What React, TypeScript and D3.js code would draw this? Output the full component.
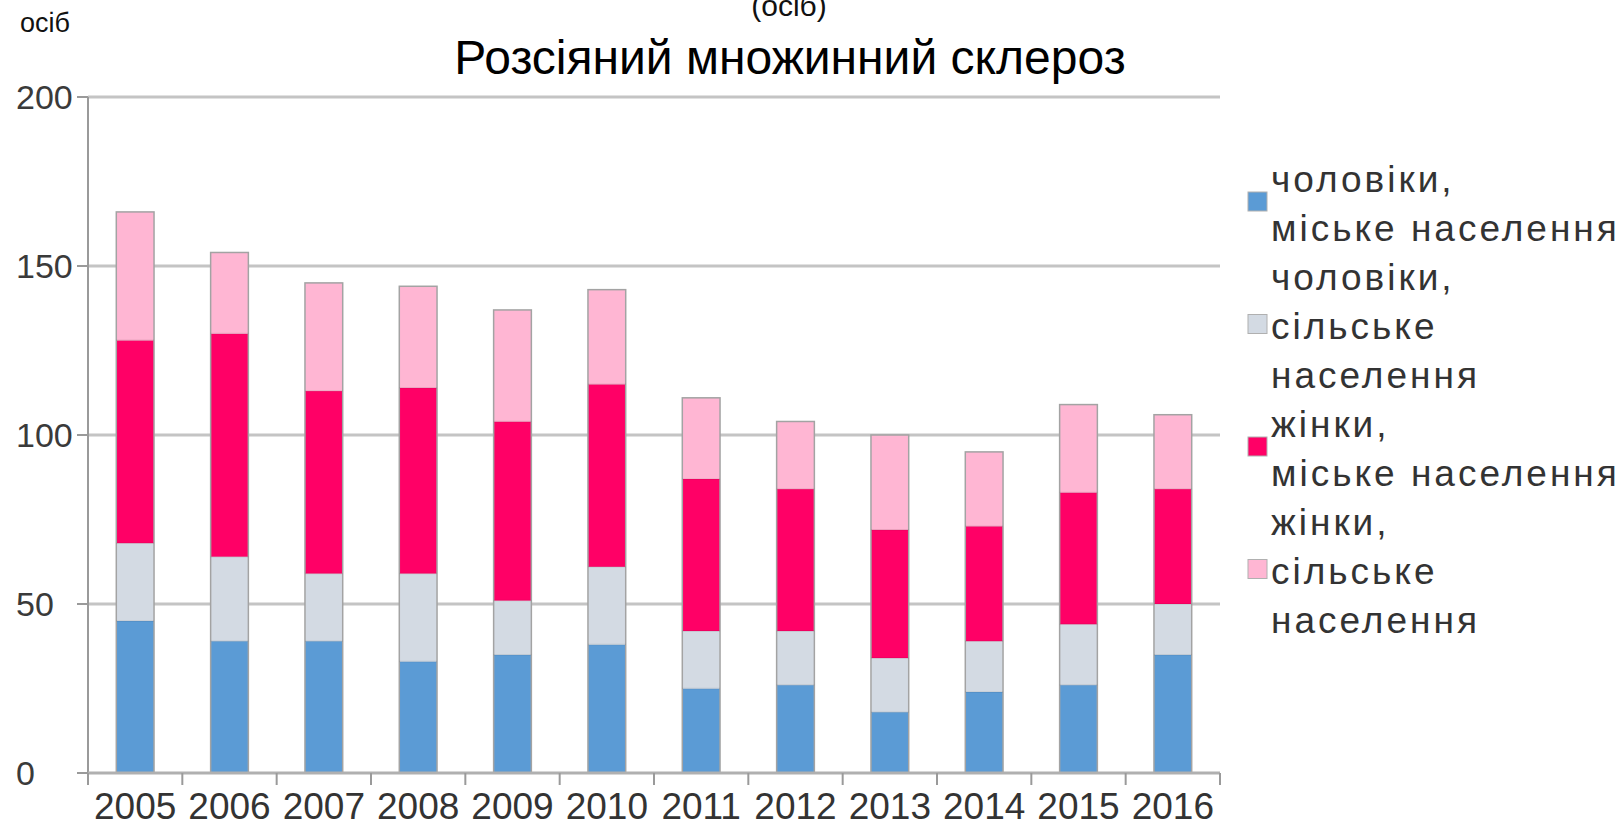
import React from "react";
import * as d3 from "d3";

const years = ["2005","2006","2007","2008","2009","2010","2011","2012","2013","2014","2015","2016"];
const menUrban = [45, 39, 39, 33, 35, 38, 25, 26, 18, 24, 26, 35];
const menRural = [23, 25, 20, 26, 16, 23, 17, 16, 16, 15, 18, 15];
const womenUrban = [60, 66, 54, 55, 53, 54, 45, 42, 38, 34, 39, 34];
const womenRural = [38, 24, 32, 30, 33, 28, 24, 20, 28, 22, 26, 22];
const yTicks = [0, 50, 100, 150, 200];
const seriesKeys = ["menUrban", "menRural", "womenUrban", "womenRural"];
const seriesColors = ["#5b9bd5", "#d3dae3", "#ff0066", "#ffb6d3"];
const legendEntries = [
  ["чоловіки,", "міське населення"],
  ["чоловіки,", "сільське", "населення"],
  ["жінки,", "міське населення"],
  ["жінки,", "сільське", "населення"],
];
const titleText = "Розсіяний множинний склероз";
const unitText = "осіб";
const unitSub = "(осіб)";

const W = 1623, H = 823;
const left = 88, right = 1220, top = 97, bottom = 773;

export default function App() {
  const table = years.map((y, i) => ({
    year: y,
    menUrban: menUrban[i],
    menRural: menRural[i],
    womenUrban: womenUrban[i],
    womenRural: womenRural[i],
  }));
  const stack = d3.stack<any>().keys(seriesKeys)(table);
  const x = d3.scaleBand().domain(years).range([left, right]).paddingInner(0.6).paddingOuter(0.3);
  const y = d3.scaleLinear().domain([0, 200]).range([bottom, top]);
  const step = x.step();
  const boundaries = d3.range(years.length + 1).map((i) => left + i * step);
  const font = "'Liberation Sans', Arial, sans-serif";
  const lineH = 49;
  const legendX = 1271;
  const legendY0 = 192;
  let lineIdx = 0;

  return (
    <div style={{ position: "fixed", left: 0, top: 0, width: W, height: H, background: "#fff" }}>
      <svg width={W} height={H} style={{ display: "block" }} fontFamily={font}>
        <rect width={W} height={H} fill="#fff" />
        <text x={20} y={32} fontSize={27} fill="#111">{unitText}</text>
        <text x={789} y={16} fontSize={30} fill="#111" textAnchor="middle">{unitSub}</text>
        <text x={790} y={74} fontSize={48} fill="#000" textAnchor="middle">{titleText}</text>

        {/* gridlines */}
        {yTicks.filter((t) => t > 0).map((t) => (
          <line key={t} x1={left} x2={right} y1={y(t)} y2={y(t)} stroke="#c4c4c4" strokeWidth={3} />
        ))}
        {/* y ticks and labels */}
        {yTicks.map((t) => (
          <g key={"yt" + t}>
            <line x1={77} x2={left} y1={y(t)} y2={y(t)} stroke="#9a9a9a" strokeWidth={2} />
            <text x={16} y={y(t)} dy="0.36em" fontSize={34} fill="#3a3a3a">{t}</text>
          </g>
        ))}
        {/* bars */}
        {stack.map((s, si) => (
          <g key={s.key} fill={seriesColors[si]}>
            {s.map((d, i) => (
              <rect key={i} x={x(years[i])} width={x.bandwidth()} y={y(d[1])} height={y(d[0]) - y(d[1])} />
            ))}
          </g>
        ))}
        {/* outlines */}
        {years.map((yr, i) => {
          const total = stack[stack.length - 1][i][1];
          return (
            <rect key={"o" + yr} x={x(yr)} width={x.bandwidth()} y={y(total)} height={y(0) - y(total)}
              fill="none" stroke="#a3a3a3" strokeWidth={1.5} />
          );
        })}
        {/* segment separators */}
        {stack.slice(0, -1).map((s, si) => (
          <g key={"sep" + si}>
            {s.map((d, i) => (
              <line key={i} x1={x(years[i])} x2={(x(years[i]) as number) + x.bandwidth()} y1={y(d[1])} y2={y(d[1])}
                stroke="#000" strokeOpacity={0.08} strokeWidth={1.5} />
            ))}
          </g>
        ))}
        {/* axes */}
        <line x1={left} x2={left} y1={top} y2={785} stroke="#9a9a9a" strokeWidth={2} />
        <line x1={left} x2={right} y1={bottom} y2={bottom} stroke="#b0b0b0" strokeWidth={3} />
        {boundaries.map((b, i) => (
          <line key={"xt" + i} x1={b} x2={b} y1={bottom} y2={785} stroke="#9a9a9a" strokeWidth={2} />
        ))}
        {years.map((yr) => (
          <text key={"xl" + yr} x={(x(yr) as number) + x.bandwidth() / 2} y={819} fontSize={37} fill="#333" textAnchor="middle">{yr}</text>
        ))}
        {/* legend */}
        {legendEntries.map((lines, ei) => {
          const start = lineIdx;
          lineIdx += lines.length;
          const b0 = legendY0 + start * lineH;
          const b1 = legendY0 + (start + lines.length - 1) * lineH;
          const my = (b0 + b1) / 2 - 15;
          return (
            <g key={"lg" + ei}>
              <rect x={1248} y={my - 9.5} width={19} height={19} fill={seriesColors[ei]} stroke="#b0b0b0" strokeWidth={1} />
              {lines.map((ln, li) => (
                <text key={li} x={legendX} y={b0 + li * lineH} fontSize={37} letterSpacing={3} fill="#333">{ln}</text>
              ))}
            </g>
          );
        })}
      </svg>
    </div>
  );
}
